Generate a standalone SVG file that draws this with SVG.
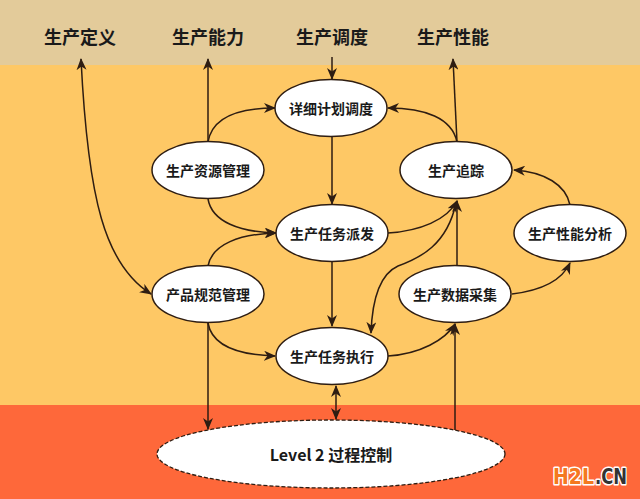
<svg xmlns="http://www.w3.org/2000/svg" width="640" height="499" viewBox="0 0 640 499">
<style>
.hdr{font-family:"Noto Sans CJK SC","Noto Sans",sans-serif;font-size:18px;font-weight:bold;fill:#1a1a1a;text-anchor:middle;dominant-baseline:central}
.lbl{font-family:"Noto Sans CJK SC","Noto Sans",sans-serif;font-size:14px;font-weight:bold;fill:#1a1a1a;text-anchor:middle;dominant-baseline:central}
.node{fill:#ffffff;stroke:#2e1d12;stroke-width:1.5}
.lvl{fill:#ffffff;stroke:#2e1d12;stroke-width:1.3;stroke-dasharray:4 2}
.c{fill:none;stroke:#2e1d12;stroke-width:1.5;marker-end:url(#ah)}
.both{marker-start:url(#ah)}
.wm{font-family:"DejaVu Sans","Liberation Sans",sans-serif;font-size:21px;font-weight:bold;stroke:#ffffff;stroke-width:3;stroke-linejoin:round;paint-order:stroke fill}
</style>
<defs>
<marker id="ah" viewBox="0 0 12 10" refX="11" refY="5" markerWidth="12" markerHeight="10" markerUnits="userSpaceOnUse" orient="auto-start-reverse">
<path d="M0,0 L12,5 L0,10 L3.5,5 z" fill="#2e1d12"/>
</marker>
</defs>
<g id="background">
<rect x="0" y="0" width="640" height="65" fill="#E3CB9A"/>
<rect x="0" y="65" width="640" height="340" fill="#FEC865"/>
<rect x="0" y="405" width="640" height="94" fill="#FE683A"/>
</g>
<g id="headers">
<text class="hdr" x="80" y="36">生产定义</text>
<text class="hdr" x="208" y="36">生产能力</text>
<text class="hdr" x="332" y="36">生产调度</text>
<text class="hdr" x="453" y="36">生产性能</text>
</g>
<g id="connectors">
<path class="c both" d="M81,59 C88,200 105,265 151,294"/>
<path class="c" d="M208,142 L208,59"/>
<path class="c" d="M208,142 C212,118 238,108 275,108"/>
<path class="c" d="M332,57 L332,79"/>
<path class="c" d="M332,137 L332,204"/>
<path class="c" d="M208,199 C212,222 240,232 276,233"/>
<path class="c" d="M208,266 C212,244 240,234 276,233"/>
<path class="c" d="M332,262 L332,326"/>
<path class="c" d="M208,323 C212,346 240,355 275,356"/>
<path class="c" d="M208,323 L208,429"/>
<path class="c both" d="M336,419 L336,386"/>
<path class="c" d="M455,430 L455,324"/>
<path class="c" d="M388,356 C420,354 445,340 455,324"/>
<path class="c" d="M457,265 L457,201"/>
<path class="c" d="M388,233 C420,231 447,220 457,201"/>
<path class="c" d="M456,203 C447,245 420,258 398,266 C378,275 372,305 371,333"/>
<path class="c" d="M512,294 C545,290 563,278 570,263"/>
<path class="c" d="M570,205 C566,185 545,172 514,170"/>
<path class="c" d="M457,142 L453,59"/>
<path class="c" d="M457,142 C452,118 425,108 388,108"/>
</g>
<g id="n-plan"><ellipse class="node" cx="331" cy="108" rx="56" ry="28.5"/><text class="lbl" x="331" y="108">详细计划调度</text></g>
<g id="n-resource"><ellipse class="node" cx="208" cy="170" rx="56" ry="28.5"/><text class="lbl" x="208" y="170">生产资源管理</text></g>
<g id="n-track"><ellipse class="node" cx="456" cy="170" rx="56" ry="28.5"/><text class="lbl" x="456" y="170">生产追踪</text></g>
<g id="n-dispatch"><ellipse class="node" cx="332" cy="233" rx="56" ry="28.5"/><text class="lbl" x="332" y="233">生产任务派发</text></g>
<g id="n-perf"><ellipse class="node" cx="570" cy="233" rx="56" ry="28.5"/><text class="lbl" x="570" y="233">生产性能分析</text></g>
<g id="n-spec"><ellipse class="node" cx="208" cy="294" rx="56" ry="28.5"/><text class="lbl" x="208" y="294">产品规范管理</text></g>
<g id="n-collect"><ellipse class="node" cx="455" cy="294" rx="56" ry="28.5"/><text class="lbl" x="455" y="294">生产数据采集</text></g>
<g id="n-exec"><ellipse class="node" cx="332" cy="356" rx="56" ry="28.5"/><text class="lbl" x="332" y="356">生产任务执行</text></g>
<g id="n-level2"><ellipse class="lvl" cx="331" cy="454" rx="174" ry="34"/><text class="lbl" style="font-size:16px" x="331" y="454">Level 2 过程控制</text></g>
<g id="watermark"><text class="wm" x="553" y="484" fill="#F47920" textLength="41" lengthAdjust="spacingAndGlyphs">H2L</text><text class="wm" x="595" y="484" fill="#333333" textLength="32" lengthAdjust="spacingAndGlyphs">.CN</text></g>
</svg>
